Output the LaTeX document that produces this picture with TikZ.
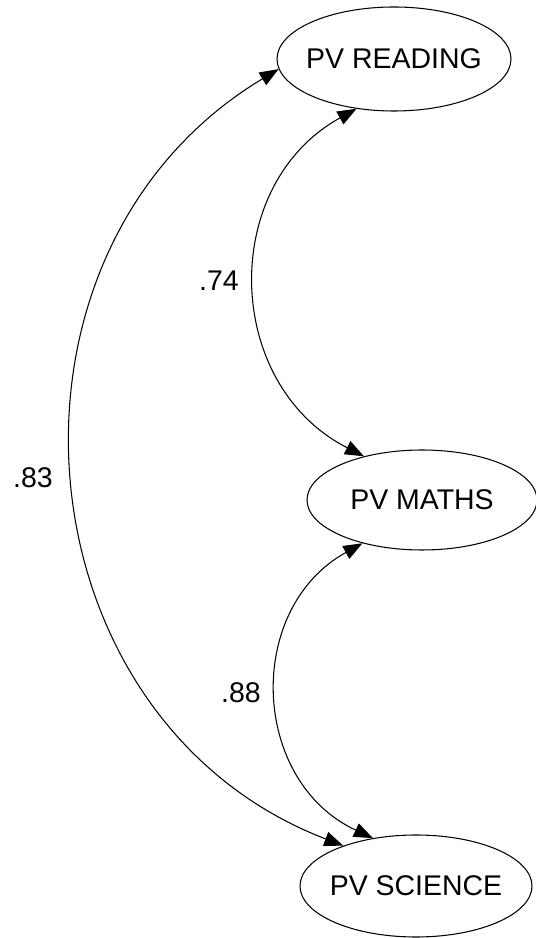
\documentclass[tikz,border=0pt]{standalone}
\usepackage{fontspec}
\setmainfont{Liberation Sans}
\usetikzlibrary{arrows.meta,shapes.geometric}

\begin{document}
\begin{tikzpicture}[
  font=\fontsize{16.2}{19}\selectfont,
  var/.style={draw, ellipse, line width=.6pt, inner sep=0pt,
              minimum width=4.64cm, minimum height=2.04cm},
  cov/.style={{Triangle[length=3.8mm,width=2.9mm]}-{Triangle[length=3.8mm,width=2.9mm]},
              line width=.6pt}
]
  \useasboundingbox (0,0) rectangle (10.72,18.76);
  \node[var, minimum width=4.68cm, minimum height=2.08cm] (reading) at (7.88,17.58) {\makebox[0pt]{PV READING}};
  \node[var, minimum width=4.6cm, minimum height=2.0cm] (maths) at (8.44,8.76) {\makebox[0pt]{PV MATHS}};
  \node[var] (science) at (8.32,1.04) {\makebox[0pt]{PV SCIENCE}};
  \node (r83) at (0.66,9.2) {.83};
  \node (r74) at (4.38,13.14) {.74};
  \node (r88) at (4.82,4.9) {.88};
  \draw[cov] (reading.185) to[out=211, in=159, looseness=1.16] (science.151);
  \draw[cov] (reading.233) to[out=209, in=153, looseness=1.16] (maths.143);
  \draw[cov] (maths.216) to[out=209, in=155, looseness=1.17] (science.132);
\end{tikzpicture}
\end{document}
